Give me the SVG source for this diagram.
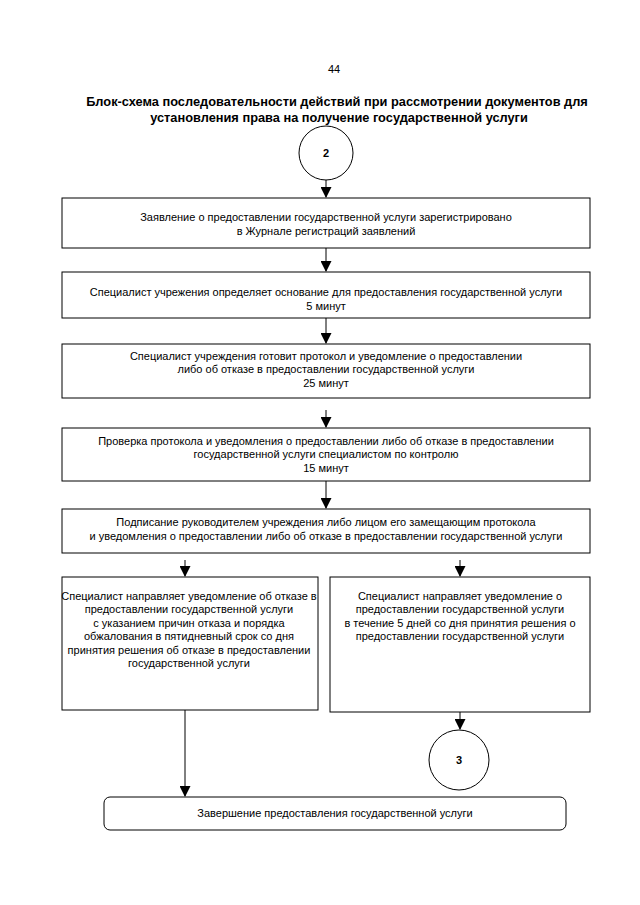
<svg xmlns="http://www.w3.org/2000/svg" width="640" height="905" viewBox="0 0 640 905">
<defs>
<marker id="ah" markerWidth="11" markerHeight="11" refX="10" refY="5.5" orient="auto" markerUnits="userSpaceOnUse">
<path d="M0,0 L11,5.5 L0,11 Z" fill="#000"/>
</marker>
<style>
.box{fill:#fff;stroke:#000;stroke-width:1}
.t{font-family:"Liberation Sans",Arial,sans-serif;font-size:11px;fill:#000;text-anchor:middle}
.h{font-family:"Liberation Sans",Arial,sans-serif;font-size:12.8px;font-weight:bold;fill:#000;text-anchor:middle}
.c{stroke:#000;stroke-width:1;fill:none;marker-end:url(#ah)}
</style>
</defs>
<rect width="640" height="905" fill="#fff"/>
<text class="t" x="334" y="73">44</text>
<text class="h" x="337" y="106">Блок-схема последовательности действий при рассмотрении документов для</text>
<text class="h" x="339" y="122">установления права на получение государственной услуги</text>

<g id="connectors">
<line class="c" x1="326" y1="180" x2="326" y2="197"/>
<line class="c" x1="326" y1="248" x2="326" y2="271"/>
<line class="c" x1="326" y1="318" x2="326" y2="343"/>
<line class="c" x1="326" y1="410" x2="326" y2="427"/>
<line class="c" x1="326" y1="481" x2="326" y2="508"/>
<line class="c" x1="185" y1="560" x2="185" y2="576"/>
<line class="c" x1="460" y1="560" x2="460" y2="576"/>
<line class="c" x1="185" y1="710" x2="185" y2="796"/>
<line class="c" x1="460" y1="712" x2="460" y2="729"/>
</g>

<g id="start2">
<circle class="box" cx="326" cy="153" r="27"/>
<text class="t" x="326" y="157" style="font-weight:bold">2</text>
</g>

<g id="step1">
<rect class="box" x="62" y="198" width="528" height="50"/>
<text class="t" x="326" y="221">Заявление о предоставлении государственной услуги зарегистрировано</text>
<text class="t" x="326" y="235">в Журнале регистраций заявлений</text>
</g>

<g id="step2">
<rect class="box" x="62" y="272" width="528" height="46"/>
<text class="t" x="326" y="296">Специалист учрежения определяет основание для предоставления государственной услуги</text>
<text class="t" x="326" y="310">5 минут</text>
</g>

<g id="step3">
<rect class="box" x="62" y="344" width="528" height="54"/>
<text class="t" x="326" y="360">Специалист учреждения готовит протокол и уведомление о предоставлении</text>
<text class="t" x="326" y="373">либо об отказе в предоставлении государственной услуги</text>
<text class="t" x="326" y="387">25 минут</text>
</g>

<g id="step4">
<rect class="box" x="62" y="428" width="528" height="53"/>
<text class="t" x="326" y="445">Проверка протокола и уведомления о предоставлении либо об отказе в предоставлении</text>
<text class="t" x="326" y="458">государственной услуги специалистом по контролю</text>
<text class="t" x="326" y="472">15 минут</text>
</g>

<g id="step5">
<rect class="box" x="62" y="509" width="528" height="44"/>
<text class="t" x="326" y="526">Подписание руководителем учреждения либо лицом его замещающим протокола</text>
<text class="t" x="326" y="540">и уведомления о предоставлении либо об отказе в предоставлении государственной услуги</text>
</g>

<g id="refuse">
<rect class="box" x="62" y="577" width="256" height="133"/>
<text class="t" x="189" y="600">Специалист направляет уведомление об отказе в</text>
<text class="t" x="189" y="613">предоставлении государственной услуги</text>
<text class="t" x="189" y="627">с указанием причин отказа и порядка</text>
<text class="t" x="189" y="640">обжалования в пятидневный срок со дня</text>
<text class="t" x="189" y="654">принятия решения об отказе в предоставлении</text>
<text class="t" x="189" y="667">государственной услуги</text>
</g>

<g id="grant">
<rect class="box" x="330" y="577" width="260" height="135"/>
<text class="t" x="460" y="600">Специалист направляет уведомление о</text>
<text class="t" x="460" y="613">предоставлении государственной услуги</text>
<text class="t" x="460" y="627">в течение 5 дней со дня принятия решения о</text>
<text class="t" x="460" y="640">предоставлении государственной услуги</text>
</g>

<g id="end3">
<circle class="box" cx="459" cy="760" r="30"/>
<text class="t" x="459" y="764" style="font-weight:bold">3</text>
</g>

<g id="finish">
<rect class="box" x="104" y="797" width="462" height="33" rx="6"/>
<text class="t" x="335" y="817">Завершение предоставления государственной услуги</text>
</g>
</svg>
